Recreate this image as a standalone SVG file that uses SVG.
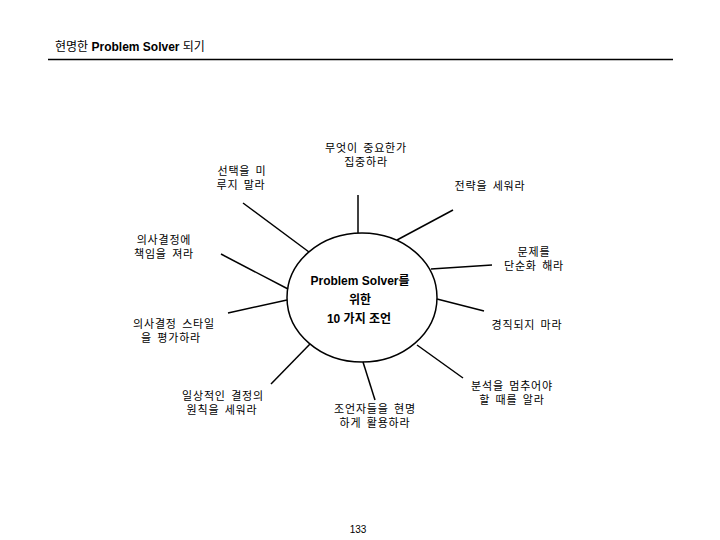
<svg xmlns="http://www.w3.org/2000/svg" width="720" height="540" viewBox="0 0 720 540">
<style>
text{font-family:"Liberation Sans","Noto Sans CJK KR",sans-serif;fill:#000}
.lbl{font-family:"Liberation Sans","Noto Sans CJK KR",sans-serif;font-size:11px;letter-spacing:0.8px;word-spacing:1.5px;text-anchor:middle}
.ctr{font-family:"Liberation Sans","Noto Sans CJK KR",sans-serif;font-size:12px;font-weight:bold;text-anchor:middle}
.sp{stroke:#000;stroke-width:1.5;fill:none}
</style>
<rect width="720" height="540" fill="#fff"/>
<g id="title">
<text x="55" y="51" font-size="12">현명한 <tspan font-weight="bold">Problem Solver</tspan> 되기</text>
<line x1="48" y1="59.5" x2="673" y2="59.5" stroke="#000" stroke-width="1.5"/>
</g>
<g id="connectors" class="sp">
<line x1="358" y1="195" x2="358" y2="233"/>
<line x1="397" y1="240" x2="453" y2="210"/>
<line x1="431" y1="269" x2="492" y2="265"/>
<line x1="437" y1="299" x2="484" y2="311"/>
<line x1="417" y1="345" x2="463" y2="378"/>
<line x1="363" y1="362" x2="375" y2="400"/>
<line x1="310" y1="344" x2="271" y2="384"/>
<line x1="287" y1="300" x2="228" y2="313"/>
<line x1="288" y1="289" x2="221" y2="254"/>
<line x1="309" y1="252" x2="243" y2="203"/>
</g>
<g id="center">
<ellipse cx="362" cy="297.5" rx="75" ry="64.5" class="sp"/>
<text class="ctr" x="360" y="285">Problem Solver를</text>
<text class="ctr" x="360" y="304">위한</text>
<text class="ctr" x="359" y="323">10 가지 조언</text>
</g>
<g id="n1"><text class="lbl" x="366" y="152">무엇이 중요한가</text><text class="lbl" x="366" y="165.5">집중하라</text></g>
<g id="n2"><text class="lbl" x="490" y="190">전략을 세워라</text></g>
<g id="n3"><text class="lbl" x="534" y="256">문제를</text><text class="lbl" x="534" y="269.5">단순화 해라</text></g>
<g id="n4"><text class="lbl" x="527" y="329">경직되지 마라</text></g>
<g id="n5"><text class="lbl" x="512" y="390">분석을 멈추어야</text><text class="lbl" x="512" y="403.5">할 때를 알라</text></g>
<g id="n6"><text class="lbl" x="375" y="413">조언자들을 현명</text><text class="lbl" x="375" y="426.5">하게 활용하라</text></g>
<g id="n7"><text class="lbl" x="223" y="400">일상적인 결정의</text><text class="lbl" x="222" y="413.5">원칙을 세워라</text></g>
<g id="n8"><text class="lbl" x="174" y="328">의사결정 스타일</text><text class="lbl" x="171" y="341.5">을 평가하라</text></g>
<g id="n9"><text class="lbl" x="164" y="244">의사결정에</text><text class="lbl" x="164" y="257.5">책임을 져라</text></g>
<g id="n10"><text class="lbl" x="242" y="175">선택을 미</text><text class="lbl" x="241" y="188.5">루지 말라</text></g>
<g id="page"><text x="358" y="533" font-size="10" text-anchor="middle">133</text></g>
</svg>
